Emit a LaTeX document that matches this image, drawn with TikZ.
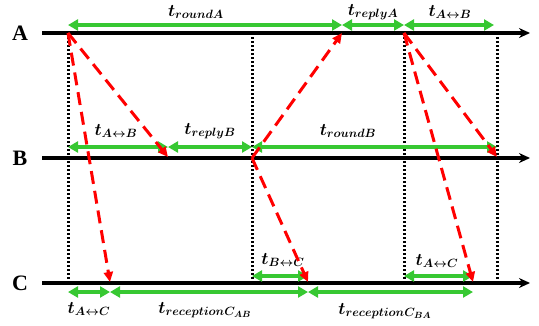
\documentclass[tikz,border=0pt]{standalone}
\usepackage{fontspec}
\setmainfont{Liberation Serif}
\usepackage{amsmath,bm}
\usetikzlibrary{arrows.meta}
\definecolor{grn}{RGB}{55,200,50}
\begin{document}
\begin{tikzpicture}[x=1pt,y=-1pt,
  tl/.style={line width=3.4pt,-{Stealth[length=11pt,width=10pt]}},
  vdot/.style={line width=3pt, dash pattern=on 2pt off 2pt},
  gr/.style={grn, line width=3.2pt, {Triangle[length=10pt,width=11pt]}-{Triangle[length=10pt,width=11pt]}},
  rd/.style={red, line width=3pt, dash pattern=on 13pt off 7pt, -{Triangle[length=10pt,width=9pt]}},
  lab/.style={font=\fontsize{18}{18}\selectfont, inner sep=0pt},
  side/.style={font=\fontsize{22}{22}\selectfont\bfseries, inner sep=0pt}
]
\useasboundingbox (0,0) rectangle (539,325);
% side labels
\node[side] (LA) at (20,33) {A};
\node[side] (LB) at (20,158) {B};
\node[side] (LC) at (20,283) {C};
% timeline coordinates
\coordinate (A0) at (42,33); \coordinate (Ae) at (530,33);
\coordinate (B0) at (42,158); \coordinate (Be) at (530,158);
\coordinate (C0) at (42,283); \coordinate (Ce) at (530,283);
\coordinate (a1) at (68,33); \coordinate (a2) at (342,33); \coordinate (a3) at (404,33); \coordinate (a4) at (497,33);
\coordinate (b1) at (68,158); \coordinate (b2) at (168,157); \coordinate (b3) at (252,158); \coordinate (b4) at (497,157); \coordinate (b5) at (404,158);
\coordinate (c1) at (68,283); \coordinate (c2) at (110,282); \coordinate (c3) at (252,283); \coordinate (c4) at (308,282); \coordinate (c5) at (404,283); \coordinate (c6) at (473,282); \coordinate (c7) at (497,283);
% dotted verticals
\draw[vdot] (a1) -- (c1);
\draw[vdot] (252,33) -- (c3);
\draw[vdot] (a3) -- (c5);
\draw[vdot] (a4) -- (c7);
% timelines
\draw[tl] (A0) -- (Ae);
\draw[tl] (B0) -- (Be);
\draw[tl] (C0) -- (Ce);
% green intervals, row A
\coordinate (ga1) at (68,25); \coordinate (ga2) at (342,25); \coordinate (ga3) at (404,25); \coordinate (ga4) at (494,25);
\draw[gr] (ga1) -- (ga2);
\draw[gr] (ga2) -- (ga3);
\draw[gr] (ga3) -- (ga4);
\node[lab] (tra) at (196,12) {$\bm{t_{roundA}}$};
\node[lab] (trpa) at (373,12) {$\bm{t_{replyA}}$};
\node[lab] (tab1) at (450,12) {$\bm{t_{A\leftrightarrow B}}$};
% row B
\coordinate (gb1) at (68,147); \coordinate (gb2) at (168,147); \coordinate (gb3) at (252,147); \coordinate (gb4) at (497,147);
\draw[gr] (gb1) -- (gb2);
\draw[gr] (gb2) -- (gb3);
\draw[gr] (gb3) -- (gb4);
\node[lab] (tab2) at (116,131) {$\bm{t_{A\leftrightarrow B}}$};
\node[lab] (trpb) at (210,131) {$\bm{t_{replyB}}$};
\node[lab] (trb) at (348,131) {$\bm{t_{roundB}}$};
% row C above
\coordinate (gc1) at (252,276); \coordinate (gc2) at (308,276); \coordinate (gc3) at (404,276); \coordinate (gc4) at (473,276);
\draw[gr] (gc1) -- (gc2);
\draw[gr] (gc3) -- (gc4);
\node[lab] (tbc) at (283,260) {$\bm{t_{B\leftrightarrow C}}$};
\node[lab] (tac1) at (437,261) {$\bm{t_{A\leftrightarrow C}}$};
% row C below
\coordinate (gd1) at (68,292); \coordinate (gd2) at (110,292); \coordinate (gd3) at (308,292); \coordinate (gd4) at (473,292);
\draw[gr] (gd1) -- (gd2);
\draw[gr] (gd2) -- (gd3);
\draw[gr] (gd3) -- (gd4);
\node[lab] (tac2) at (89,309) {$\bm{t_{A\leftrightarrow C}}$};
\node[lab] (trcab) at (205,310) {$\bm{t_{reception C_{AB}}}$};
\node[lab] (trcba) at (385,311) {$\bm{t_{reception C_{BA}}}$};
% red messages
\draw[rd] (a1) -- (b2);
\draw[rd] (a1) -- (c2);
\draw[rd] (b3) -- (a2);
\draw[rd] (b3) -- (c4);
\draw[rd] (a3) -- (b4);
\draw[rd] (a3) -- (c6);
\end{tikzpicture}
\end{document}
